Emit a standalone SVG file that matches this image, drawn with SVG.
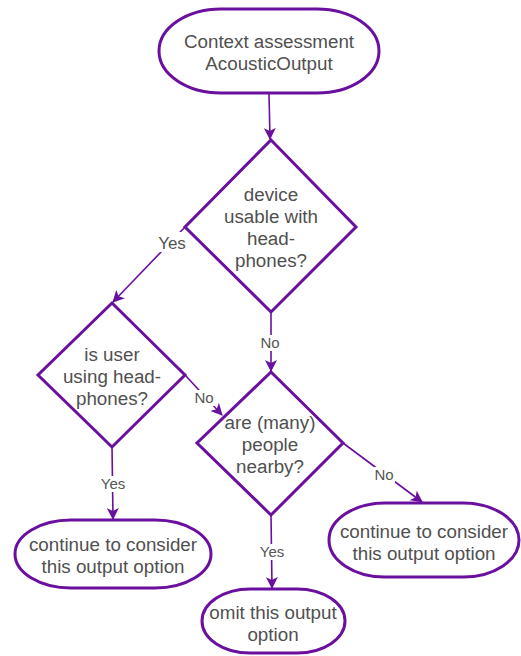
<svg xmlns="http://www.w3.org/2000/svg" width="521" height="656" viewBox="0 0 521 656">
  <style>
    .shape { fill: #ffffff; stroke: #6a0f9e; stroke-width: 3; }
    .edge { fill: none; stroke: #6a0f9e; stroke-width: 1.6; }
    .txt { font-family: "Liberation Sans", Arial, sans-serif; font-size: 18.8px; fill: #505050; text-anchor: middle; }
    .lbl { font-family: "Liberation Sans", Arial, sans-serif; font-size: 15px; fill: #555555; text-anchor: middle; }
    .lblbg { fill: #ffffff; }
  </style>
  <defs>
    <marker id="arrow" viewBox="0 0 12 12" refX="11" refY="6" markerWidth="12" markerHeight="12" markerUnits="userSpaceOnUse" orient="auto">
      <path d="M0,0 L12,6 L0,12 L3,6 z" fill="#6a0f9e"/>
    </marker>
  </defs>
  <rect width="521" height="656" fill="#ffffff"/>

  <g id="connectors">
    <line class="edge" x1="269" y1="94" x2="270" y2="139" marker-end="url(#arrow)"/>
    <line class="edge" x1="185" y1="227" x2="113" y2="302" marker-end="url(#arrow)"/>
    <line class="edge" x1="271" y1="312" x2="271" y2="371" marker-end="url(#arrow)"/>
    <line class="edge" x1="185" y1="375" x2="222" y2="415" marker-end="url(#arrow)"/>
    <line class="edge" x1="112" y1="447" x2="113" y2="519" marker-end="url(#arrow)"/>
    <line class="edge" x1="343" y1="443" x2="422" y2="502" marker-end="url(#arrow)"/>
    <line class="edge" x1="271" y1="515" x2="272" y2="588" marker-end="url(#arrow)"/>
    <!-- edge labels -->
    <rect class="lblbg" x="155" y="232" width="34" height="20"/>
    <text class="lbl" x="172" y="249" style="font-size:17px">Yes</text>
    <rect class="lblbg" x="260" y="335" width="21" height="16"/>
    <text class="lbl" x="270" y="348">No</text>
    <rect class="lblbg" x="194" y="390" width="21" height="16"/>
    <text class="lbl" x="204" y="403">No</text>
    <rect class="lblbg" x="100" y="476" width="27" height="16"/>
    <text class="lbl" x="113" y="489">Yes</text>
    <rect class="lblbg" x="374" y="467" width="21" height="16"/>
    <text class="lbl" x="384" y="480">No</text>
    <rect class="lblbg" x="259" y="544" width="27" height="16"/>
    <text class="lbl" x="272" y="557">Yes</text>
  </g>

  <g id="start">
    <rect class="shape" x="159" y="9" width="220" height="84" rx="62" ry="42"/>
    <text class="txt" x="269" y="48">Context assessment</text>
    <text class="txt" x="269" y="70">AcousticOutput</text>
  </g>

  <g id="decision-device">
    <polygon class="shape" points="271,140 356,227 271,312 185,227"/>
    <text class="txt" x="271" y="201">device</text>
    <text class="txt" x="271" y="223">usable with</text>
    <text class="txt" x="271" y="245">head-</text>
    <text class="txt" x="271" y="267">phones?</text>
  </g>

  <g id="decision-user">
    <polygon class="shape" points="112,303 185,375 112,447 38,375"/>
    <text class="txt" x="112" y="361">is user</text>
    <text class="txt" x="112" y="383">using head-</text>
    <text class="txt" x="112" y="405">phones?</text>
  </g>

  <g id="decision-people">
    <polygon class="shape" points="271,372 343,443 271,515 197,443"/>
    <text class="txt" x="270" y="429">are (many)</text>
    <text class="txt" x="270" y="451">people</text>
    <text class="txt" x="270" y="473">nearby?</text>
  </g>

  <g id="consider-left">
    <rect class="shape" x="15" y="520" width="196" height="68" rx="56" ry="34"/>
    <text class="txt" x="113" y="551">continue to consider</text>
    <text class="txt" x="113" y="573">this output option</text>
  </g>

  <g id="consider-right">
    <rect class="shape" x="329" y="503" width="190" height="74" rx="56" ry="37"/>
    <text class="txt" x="424" y="538">continue to consider</text>
    <text class="txt" x="424" y="560">this output option</text>
  </g>

  <g id="omit">
    <rect class="shape" x="202" y="589" width="143" height="64" rx="48" ry="32"/>
    <text class="txt" x="273" y="619">omit this output</text>
    <text class="txt" x="273" y="641">option</text>
  </g>
</svg>
